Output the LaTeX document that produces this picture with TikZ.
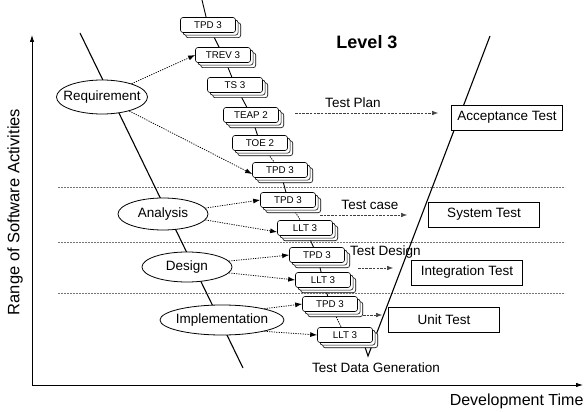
\documentclass[tikz,border=0pt]{standalone}
\usepackage{fontspec}
\setmainfont{Liberation Sans}
\usetikzlibrary{shadows,arrows.meta,backgrounds,shapes.geometric}
\begin{document}
\begin{tikzpicture}[x=1pt,y=-1pt,
  card/.style={draw,line width=0.6pt,fill=white,rounded corners=2.5pt,minimum width=55pt,minimum height=15pt,inner sep=0pt,
    font=\fontsize{9.8}{10}\selectfont,
    double copy shadow={shadow xshift=2.6pt,shadow yshift=-2.6pt,draw=black,fill=white,line width=0.6pt}},
  phase/.style={draw,line width=0.8pt,ellipse,fill=white,inner sep=0pt},
  lbl/.style={font=\fontsize{13.5}{15}\selectfont,inner sep=0pt},
  testbox/.style={draw,line width=0.8pt,fill=white,minimum width=111pt,minimum height=25pt,inner sep=0pt,font=\fontsize{13.5}{15}\selectfont},
  dotarrow/.style={dash pattern=on 1.2pt off 1.2pt,line width=0.75pt,-{Latex[length=7pt,width=5pt]}},
  planarrow/.style={dash pattern=on 2.5pt off 1.2pt,line width=0.5pt,draw=black!75,-{Latex[length=6pt,width=4.5pt]}},
  sep/.style={dash pattern=on 2pt off 1pt,draw=black!55,line width=0.5pt},
  chain/.style={line width=0.9pt},
  chaindot/.style={line width=0.9pt,dash pattern=on 1.2pt off 1.2pt},
  vline/.style={line width=1.1pt},
  axis/.style={line width=0.8pt,-{Latex[length=7pt,width=4.5pt]}}
]
\useasboundingbox (0,0) rectangle (584,412);

% coordinates
\coordinate (o) at (32,385);
\coordinate (ytop) at (32,35);
\coordinate (xend) at (583,385);
\coordinate (vl1) at (80,33);
\coordinate (vl2) at (243,368);
\coordinate (vr1) at (490,36);
\coordinate (vr2) at (368,356);
\coordinate (vs) at (361,335);
\coordinate (ctop) at (202,0);
\coordinate (s1a) at (58,187);  \coordinate (s1b) at (565,187);
\coordinate (s2a) at (58,242);  \coordinate (s2b) at (565,242);
\coordinate (s3a) at (58,293);  \coordinate (s3b) at (565,293);

% phase ellipses
\node[phase,minimum width=91pt,minimum height=34pt] (req) at (102,97) {};
\node[lbl] at (req) {Requirement};
\node[phase,minimum width=90pt,minimum height=32pt] (ana) at (163,214) {};
\node[lbl] at (ana) {Analysis};
\node[phase,minimum width=90pt,minimum height=30pt] (des) at (187,267) {};
\node[lbl] at (des) {Design};
\node[phase,minimum width=124pt,minimum height=30pt] (imp) at (222,320) {};
\node[lbl] at (imp) {Implementation};

% stacked cards
\node[card] (tpda) at (208,25) {TPD 3};
\node[card] (trev) at (223,55) {TREV 3};
\node[card] (ts) at (235,85) {TS 3};
\node[card] (teap) at (251,115) {TEAP 2};
\node[card] (toe) at (260,143) {TOE 2};
\node[card] (tpdb) at (280,170) {TPD 3};
\node[card] (tpdc) at (288,200) {TPD 3};
\node[card] (lltd) at (305,228) {LLT 3};
\node[card] (tpde) at (317,255) {TPD 3};
\node[card] (lltf) at (323,280) {LLT 3};
\node[card] (tpdg) at (330,304) {TPD 3};
\node[card] (llth) at (345,335) {LLT 3};

% test boxes
\node[testbox] (acc) at (507,117.5) {Acceptance Test};
\node[testbox] (sys) at (484,214.5) {System Test};
\node[testbox] (int) at (467,272.5) {Integration Test};
\node[testbox] (unit) at (444,320) {Unit Test};

% texts
\node[font=\bfseries\fontsize{18}{20}\selectfont] (lev) at (367,42) {Level 3};
\node[lbl] (tplan) at (353,103) {Test Plan};
\node[lbl] (tcase) at (370,205) {Test case};
\node[lbl,anchor=west] (tdes) at (350,252) {Test Design};
\node[lbl] (tdg) at (376,368) {Test Data Generation};
\node[font=\fontsize{16.5}{18}\selectfont,rotate=90] (ylab) at (15,212) {Range of Software Activities};
\node[font=\fontsize{16}{17}\selectfont,anchor=east] (xlab) at (587,401) {Development Time};

% arrow end coordinates
\coordinate (tp1) at (295,113);  \coordinate (tp2) at (438,113);
\coordinate (tc1) at (320,215);  \coordinate (tc2) at (407,215);
\coordinate (td1) at (358,268);  \coordinate (td2) at (393,268);
\coordinate (tu1) at (363,315);  \coordinate (tu2) at (382,315);

\begin{pgfonlayer}{background}
  \draw[sep] (s1a) -- (s1b);
  \draw[sep] (s2a) -- (s2b);
  \draw[sep] (s3a) -- (s3b);
  \draw[vline] (vl1) -- (vl2);
  \draw[vline] (vr1) -- (vr2) -- (vs);
  \draw[chain] (ctop) -- (tpda.center) -- (trev.center) -- (ts.center) -- (teap.center) -- (toe.center);
  \draw[chaindot] (toe.center) -- (tpdb.center);
  \draw[chain] (tpdb.center) -- (tpdc.center);
  \draw[chaindot] (tpdc.center) -- (lltd.center);
  \draw[chain] (lltd.center) -- (tpde.center) -- (lltf.center) -- (tpdg.center);
  \draw[chaindot] (tpdg.center) -- (llth.center);
\end{pgfonlayer}

% axes
\draw[axis] (o) -- (ytop);
\draw[axis] (o) -- (xend);

% activity arrows
\draw[dotarrow] (req) -- (trev.west);
\draw[dotarrow] (req) -- ([yshift=-4pt]tpdb.west);
\draw[dotarrow] (ana.8) -- (tpdc.west);
\draw[dotarrow] (ana.-8) -- ([yshift=-4pt]lltd.west);
\draw[dotarrow] (des.8) -- (tpde.west);
\draw[dotarrow] (des.-8) -- (lltf.west);
\draw[dotarrow] (imp.15) -- (tpdg.west);
\draw[dotarrow] (imp.-15) -- (llth.west);

% test arrows
\draw[planarrow] (tp1) -- (tp2);
\draw[planarrow] (tc1) -- (tc2);
\draw[planarrow] (td1) -- (td2);
\draw[planarrow] (tu1) -- (tu2);
\end{tikzpicture}
\end{document}
